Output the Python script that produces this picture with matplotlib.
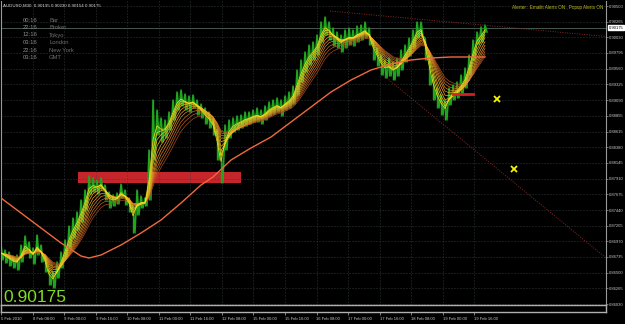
import numpy as np
import matplotlib.pyplot as plt
from matplotlib.colors import LinearSegmentedColormap
from matplotlib.patches import Rectangle
import matplotlib.transforms as mtransforms

# ===== DATA (AUDUSD, M30) =====
# bar highs / lows, one sample every 4 bar slots
high = [0.86900, 0.86840, 0.86810, 0.86750, 0.86765, 0.86915, 0.87050, 0.86960, 0.86870, 0.87065,
        0.86915, 0.86765, 0.86540, 0.86510, 0.86660, 0.86810, 0.86990, 0.87200, 0.87320, 0.87410,
        0.87590, 0.87740, 0.87950, 0.87920, 0.87890, 0.87920, 0.87815, 0.87710, 0.87665, 0.87695,
        0.87830, 0.87740, 0.87620, 0.87515, 0.87740, 0.87650, 0.87620, 0.88340, 0.89090, 0.88940,
        0.88820, 0.88790, 0.88910, 0.89090, 0.89210, 0.89240, 0.89180, 0.89150, 0.89165, 0.89090,
        0.89030, 0.88970, 0.88910, 0.88820, 0.88640, 0.88340, 0.88715, 0.88790, 0.88820, 0.88850,
        0.88865, 0.88910, 0.88910, 0.88940, 0.88970, 0.88940, 0.89000, 0.89060, 0.89090, 0.89120,
        0.89090, 0.89150, 0.89210, 0.89300, 0.89540, 0.89690, 0.89810, 0.89915, 0.89960, 0.90065,
        0.90260, 0.90335, 0.90260, 0.90170, 0.90110, 0.90065, 0.90140, 0.90170, 0.90140, 0.90200,
        0.90215, 0.90260, 0.90170, 0.89990, 0.89870, 0.89765, 0.89690, 0.89720, 0.89660, 0.89720,
        0.89840, 0.89915, 0.90020, 0.90140, 0.90260, 0.90260, 0.90020, 0.89765, 0.89465, 0.89270,
        0.89165, 0.89090, 0.89270, 0.89315, 0.89360, 0.89465, 0.89570, 0.89765, 0.89990, 0.90110,
        0.90185, 0.90215]
low = [0.86690, 0.86645, 0.86600, 0.86570, 0.86540, 0.86660, 0.86810, 0.86720, 0.86630, 0.86765,
       0.86660, 0.86510, 0.86315, 0.86270, 0.86420, 0.86570, 0.86720, 0.86870, 0.87020, 0.87140,
       0.87260, 0.87440, 0.87680, 0.87710, 0.87680, 0.87740, 0.87590, 0.87470, 0.87500, 0.87530,
       0.87620, 0.87515, 0.87410, 0.87095, 0.87365, 0.87470, 0.87500, 0.87590, 0.88190, 0.88565,
       0.88460, 0.88520, 0.88640, 0.88790, 0.88940, 0.89000, 0.88940, 0.88910, 0.88970, 0.88865,
       0.88820, 0.88730, 0.88670, 0.88565, 0.88190, 0.87845, 0.88340, 0.88520, 0.88610, 0.88640,
       0.88670, 0.88700, 0.88730, 0.88760, 0.88760, 0.88730, 0.88790, 0.88850, 0.88880, 0.88910,
       0.88850, 0.88940, 0.88970, 0.89030, 0.89165, 0.89360, 0.89510, 0.89615, 0.89690, 0.89765,
       0.89960, 0.90065, 0.89990, 0.89900, 0.89870, 0.89810, 0.89870, 0.89915, 0.89900, 0.89960,
       0.89990, 0.90020, 0.89915, 0.89690, 0.89600, 0.89465, 0.89420, 0.89450, 0.89390, 0.89450,
       0.89540, 0.89660, 0.89750, 0.89870, 0.90020, 0.90050, 0.89690, 0.89315, 0.89090, 0.88970,
       0.88865, 0.88790, 0.89015, 0.89090, 0.89120, 0.89165, 0.89270, 0.89465, 0.89690, 0.89930,
       0.89960, 0.90110]

# slow moving average
sma_bar = [0, 20, 40, 60, 80, 88, 100, 120, 140, 160, 180, 200, 212, 230, 250, 270,
           290, 310, 330, 350, 370, 390, 410, 430, 450, 470, 484]
sma_val = [0.87620, 0.87395, 0.87170, 0.86945, 0.86750, 0.86720, 0.86765, 0.86915, 0.87095,
           0.87290, 0.87545, 0.87815, 0.87935, 0.88190, 0.88370, 0.88535, 0.88760, 0.88985,
           0.89210, 0.89390, 0.89540, 0.89630, 0.89690, 0.89720, 0.89735, 0.89735, 0.89735]

ema_periods = [5, 8, 11, 14, 18, 22, 26, 31, 36, 42]

date_labels = ['5 Feb 2010', '8 Feb 08:00', '9 Feb 00:00', '9 Feb 16:00', '10 Feb 08:00',
               '11 Feb 00:00', '11 Feb 16:00', '12 Feb 08:00', '15 Feb 00:00', '15 Feb 16:00',
               '16 Feb 08:00', '17 Feb 00:00', '17 Feb 16:00', '18 Feb 08:00', '19 Feb 00:00',
               '19 Feb 16:00']
price_ticks = [0.90500, 0.90265, 0.90030, 0.89795, 0.89560, 0.89325, 0.89090, 0.88855,
               0.88615, 0.88380, 0.88145, 0.87910, 0.87675, 0.87440, 0.87205, 0.86970,
               0.86735, 0.86500, 0.86265, 0.86030]
last_price = 0.90175
header = 'AUDUSD,M30  0.90195 0.90230 0.90154 0.90175'
clock_times = ['00:16', '22:16', '12:16', '03:16', '22:16', '03:16']
clock_names = ['Bar', 'Broker', 'Tokyo', 'London', 'New York', 'GMT']

# objects drawn on the chart
zone_bars = (77, 240)
zone_prices = (0.87845, 0.88010)
stop_bars = (452, 472)
stop_price = 0.89180
cross_bars = [496, 513]
cross_prices = [0.89105, 0.88055]
trend1_bars = [329, 605]
trend1_prices = [0.90425, 0.90043]
trend2_bars = [382, 605]
trend2_prices = [0.89465, 0.86720]

# ===== FIGURE =====
W, H = 625, 324
fig = plt.figure(figsize=(W / 100, H / 100), dpi=100, facecolor='black')
font = 'Liberation Sans'

ax = fig.add_axes([1 / W, 19 / H, 605 / W, 304 / H], facecolor='black')
ax.set_xlim(0, 605)
ax.set_ylim(0.86015, 0.90575)

for s in ['left', 'right', 'bottom']:
    ax.spines[s].set_color('#9a9a9a')
    ax.spines[s].set_linewidth(0.8)
ax.spines['top'].set_visible(False)

# grid
xt = np.arange(len(date_labels)) * 31.55
ax.set_xticks(xt)
ax.set_yticks(price_ticks)
ax.grid(True, color='#394040', linestyle=(0, (1.2, 2.4)), linewidth=0.6)
ax.tick_params(axis='x', length=0, labelbottom=False)
ax.yaxis.tick_right()
ax.set_yticklabels([f'{p:.5f}' for p in price_ticks])
ax.tick_params(axis='y', length=1.5, width=0.5, color='#9a9a9a', pad=0.4,
               labelsize=3.0, labelcolor='#c8c8c8')
for lab in ax.get_yticklabels():
    lab.set_family(font)

# bid line
ax.axhline(last_price, color='#46584f', lw=0.7, zorder=1)

# zone rectangle (background object)
ax.add_patch(Rectangle((zone_bars[0], zone_prices[0]), zone_bars[1] - zone_bars[0],
                       zone_prices[1] - zone_prices[0], facecolor='#c4262b',
                       edgecolor='none', zorder=1.5))

# price bars, drawn as a high/low zigzag
x = np.arange(len(high)) * 4
high = np.array(high)
low = np.array(low)
zx = np.ravel(np.column_stack([x, x + 2]))
zy = np.ravel(np.column_stack([high, low]))
ax.plot(zx, zy, color='#1fa51f', lw=1.1, zorder=2)
ax.vlines(x, low, high, color='#1fa51f', lw=1.0, zorder=2)

# EMA ribbon
mid = (high + low) / 2
cmap = LinearSegmentedColormap.from_list('fan', ['#ffe21c', '#f0a02a', '#a8481c'])
for i, n in reversed(list(enumerate(ema_periods))):
    a = 1 - (1 - 2 / (n + 1)) ** 4
    ema = np.empty_like(mid)
    ema[0] = mid[0]
    for k in range(1, len(mid)):
        ema[k] = ema[k - 1] + a * (mid[k] - ema[k - 1])
    ax.plot(x, ema, color=cmap(i / (len(ema_periods) - 1)), lw=0.5, zorder=3)

# slow average
ax.plot(sma_bar, sma_val, color='#f0693e', lw=1.0, zorder=3.5)

# trend lines
ax.plot(trend1_bars, trend1_prices, color='#8a2a22', lw=0.7, ls=(0, (1, 1.5)), zorder=2.5)
ax.plot(trend2_bars, trend2_prices, color='#8a2a22', lw=0.7, ls=(0, (1, 1.5)), zorder=2.5)

# stop level and markers
ax.plot(stop_bars, [stop_price, stop_price], color='#d42020', lw=2.0, zorder=4)
ax.plot(cross_bars, cross_prices, 'x', color='#f5f500', ms=5, mew=1.3, zorder=4)

# current price label
trans = mtransforms.blended_transform_factory(ax.transAxes, ax.transData)
ax.text(1.004, last_price, f'{last_price:.5f}', transform=trans, fontsize=3.0,
        family=font, color='black', va='center', ha='left',
        bbox=dict(boxstyle='square,pad=0.2', facecolor='white', edgecolor='white'))

# ===== SUB WINDOW + DATES =====
sub = fig.add_axes([1 / W, 12 / H, 605 / W, 7 / H], facecolor='black')
sub.set_xlim(0, 605)
sub.set_yticks([])
for s in sub.spines.values():
    s.set_color('#b0b0b0')
    s.set_linewidth(1.0)
sub.set_xticks(xt)
sub.set_xticklabels(date_labels, ha='left')
sub.tick_params(axis='x', length=2.5, width=0.5, color='#b0b0b0', pad=1.2,
                labelsize=3.0, labelcolor='#c8c8c8')
for lab in sub.get_xticklabels():
    lab.set_family(font)
sub.text(3, 0.5, 'MBT MetaTrader 4, © 2001-2009 MetaQuotes Software Corp.',
         transform=sub.get_yaxis_transform(), fontsize=3.3, family=font,
         color='#e0e0e0', va='center', ha='left')


def px(xp, yp):
    return xp / W, 1 - yp / H


# ===== TEXTS =====
fig.text(*px(3, 5.5), header, fontsize=3.2, family=font, color='#d8d8d8', va='center')
rows_y = [20, 27.5, 35, 42.5, 50, 57.5]
for t, n, yy in zip(clock_times, clock_names, rows_y):
    fig.text(*px(23, yy), t, fontsize=4.2, family=font, color='#8c8c8c', va='center')
    fig.text(*px(49, yy), n, fontsize=4.2, family=font, color='#6e6e6e', va='center')

fig.text(*px(603, 7), 'Alerter : Emailit Alerts ON , Popup Alerts ON', fontsize=3.3,
         family=font, color='#bcbc1e', va='center', ha='right')

fig.text(*px(3, 302), f'{last_price:.5f}', fontsize=12.5, family=font,
         color='#80dc1e', va='baseline', ha='left')

fig.savefig('out.png', dpi=100, facecolor='black')
